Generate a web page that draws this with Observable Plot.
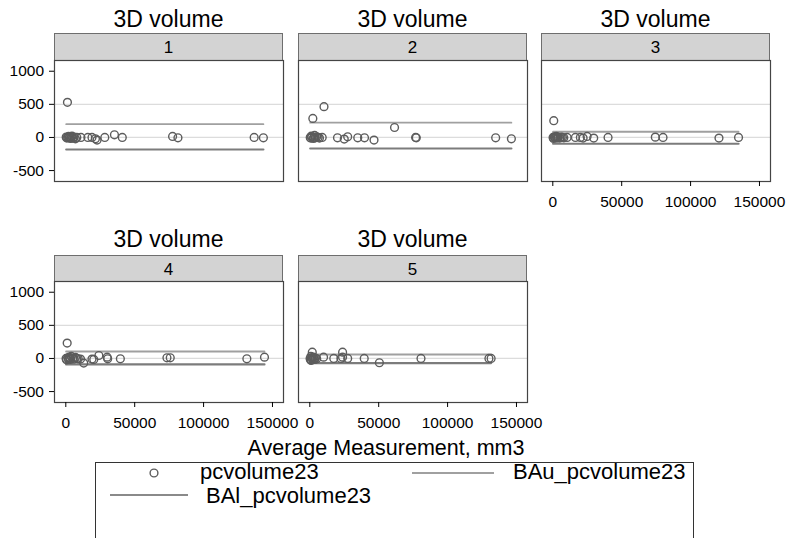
<!DOCTYPE html>
<html><head><meta charset="utf-8">
<script src="https://cdn.jsdelivr.net/npm/d3@7"></script>
<script src="https://cdn.jsdelivr.net/npm/@observablehq/plot@0.6"></script>
<style>
body{margin:0;background:#fff;}
#chart{position:relative;width:791px;height:538px;overflow:hidden;background:#fff;font-family:"Liberation Sans",Arial,sans-serif;color:#000;}
.abs{position:absolute;white-space:nowrap;}
</style></head><body><div id="chart"></div>
<script>
// ---------- data ----------
const panelIds = [1, 2, 3, 4, 5];
const avg1  = [300,800,1200,1500,2000,2500,3000,3500,4000,4500,5000,6000,7000,8000,11000,16000,19000,21500,22700,28300,35300,41000,77500,81400,136700,143400];
const diff1 = [5,-10,530,0,15,-5,10,-15,0,20,-10,5,-20,0,0,0,0,-20,-40,0,40,0,15,-5,0,-5];
const avg2  = [300,600,1000,1500,2200,2500,3000,3500,4000,5000,6000,7000,9000,10300,20100,25000,27500,34800,39700,46600,61500,76800,77300,134900,146300];
const diff2 = [0,-10,20,10,288,-15,0,30,-5,10,0,-10,0,465,-5,-25,10,-5,-5,-40,150,0,-5,-5,-20];
const avg3  = [200,500,700,1000,1500,2000,2500,3000,3500,4000,5000,6000,7000,8000,10400,16400,20000,22000,24900,29700,40100,74400,80000,120600,134800];
const diff3 = [0,-15,253,10,-5,0,15,-10,5,0,-10,5,0,-5,0,0,0,-10,15,-10,0,5,0,-10,0];
const avg4  = [200,500,1000,1500,2000,2500,3000,3500,4000,5000,6000,7000,8000,9000,10700,13000,19000,20300,24000,30000,30400,39600,73400,75800,131400,144200];
const diff4 = [0,-20,232,10,-10,20,0,-15,30,5,-10,15,0,-5,-10,-70,-10,-15,45,20,-5,-5,10,10,-5,20];
const avg5  = [200,500,800,1000,1500,1800,2000,2500,3000,3500,4000,5000,10000,17400,22600,23800,23800,27500,39500,50500,80700,130000,131600];
const diff5 = [0,-20,30,-30,10,95,-10,20,0,-15,5,-5,20,0,0,95,20,0,0,-65,0,0,0];
const avgs  = [avg1, avg2, avg3, avg4, avg5];
const diffs = [diff1, diff2, diff3, diff4, diff5];
const upperLimit = [200, 223, 86, 105, 60];
const lowerLimit = [-182, -167, -95, -90, -70];
const yTicks = [-500, 0, 500, 1000];
const xTicks = [0, 50000, 100000, 150000];
const gridValues = [0, 500];
const panelTitle = "3D volume";
const xTitle = "Average Measurement, mm3";
const legendLabels = ["pcvolume23", "BAu_pcvolume23", "BAl_pcvolume23"];

// ---------- layout ----------
const chart = document.getElementById("chart");
const FONT = '"Liberation Sans", Arial, sans-serif';
const PW = 229, PH = 121, ML = 54, MR = 24, MT = 2, MB = 36;
const layout = [
  {L: 54,  T: 60,  titleBase: 27.5,  stripTop: 33,  showY: true,  showX: false},
  {L: 298, T: 60,  titleBase: 27.5,  stripTop: 33,  showY: false, showX: false},
  {L: 541, T: 60,  titleBase: 27.5,  stripTop: 33,  showY: false, showX: true},
  {L: 54,  T: 281, titleBase: 247,   stripTop: 255, showY: true,  showX: true},
  {L: 298, T: 281, titleBase: 247,   stripTop: 255, showY: false, showX: true}
];

function addText(str, x, baseline, size, anchor = "start") {
  const d = document.createElement("div");
  d.className = "abs";
  d.textContent = str;
  d.style.fontSize = size + "px";
  d.style.lineHeight = size + "px";
  d.style.top = (baseline - 0.8465 * size) + "px";
  d.style.left = x + "px";
  if (anchor === "middle") d.style.transform = "translateX(-50%)";
  chart.appendChild(d);
  return d;
}

panelIds.forEach((id, i) => {
  const lay = layout[i];
  const pts = avgs[i].map((a, j) => ({avg: a, diff: diffs[i][j]}));
  const x0 = d3.min(avgs[i]), x1 = d3.max(avgs[i]);
  const up = [{x: x0, y: upperLimit[i]}, {x: x1, y: upperLimit[i]}];
  const lo = [{x: x0, y: lowerLimit[i]}, {x: x1, y: lowerLimit[i]}];

  addText(panelTitle, lay.L + PW / 2, lay.titleBase, 23, "middle");
  const s = document.createElement("div");
  s.className = "abs";
  s.style.left = lay.L + "px";
  s.style.top = lay.stripTop + "px";
  s.style.width = (PW - 2) + "px";
  s.style.height = (lay.T - lay.stripTop - 1) + "px";
  s.style.background = "#d3d3d3";
  s.style.border = "1px solid #6e6e6e";
  s.style.borderBottom = "none";
  s.style.textAlign = "center";
  s.style.fontSize = "17px";
  s.style.lineHeight = (lay.T - lay.stripTop + 1) + "px";
  s.textContent = String(id);
  chart.appendChild(s);

  const marks = [
    Plot.gridY(gridValues, {stroke: "#dcdcdc", strokeOpacity: 1, strokeWidth: 1.2}),
    Plot.line(up, {x: "x", y: "y", stroke: "#a0a0a0", strokeWidth: 1.8}),
    Plot.line(lo, {x: "x", y: "y", stroke: "#7c7c7c", strokeWidth: 2.2}),
    Plot.dot(pts, {x: "avg", y: "diff", r: 3.9, fill: "none", stroke: "#5c5c5c", strokeWidth: 1.4}),
    Plot.frame({stroke: "#444", strokeWidth: 1.2})
  ];
  if (lay.showY) marks.push(Plot.axisY(yTicks, {tickSize: 5, tickPadding: 5.5, label: null, fontSize: 15.5, tickFormat: d => String(d)}));
  if (lay.showX) marks.push(Plot.axisX(xTicks, {tickSize: 5, tickPadding: 9, label: null, fontSize: 15.5, tickFormat: d => String(d)}));

  const svg = Plot.plot({
    width: ML + PW + MR,
    height: MT + PH + MB,
    marginLeft: ML, marginRight: MR, marginTop: MT, marginBottom: MB,
    x: {domain: [-8200, 158000], ...(lay.showX ? {} : {axis: null})},
    y: {domain: [-665, 1162], ...(lay.showY ? {} : {axis: null})},
    style: {background: "transparent", overflow: "visible", fontFamily: FONT, fontSize: "15.5px", color: "#000"},
    marks
  });
  svg.style.position = "absolute";
  svg.style.left = (lay.L - ML) + "px";
  svg.style.top = (lay.T - MT) + "px";
  svg.style.maxWidth = "none";
  chart.appendChild(svg);
});

addText(xTitle, 386, 456.5, 21.5, "middle");

const box = document.createElement("div");
box.className = "abs";
box.style.left = "95px"; box.style.top = "462px";
box.style.width = "597px"; box.style.height = "100px";
box.style.border = "1px solid #333";
chart.appendChild(box);

const ns = "http://www.w3.org/2000/svg";
const lsvg = document.createElementNS(ns, "svg");
lsvg.setAttribute("width", 791); lsvg.setAttribute("height", 538);
lsvg.style.position = "absolute"; lsvg.style.left = "0px"; lsvg.style.top = "0px";
const c = document.createElementNS(ns, "circle");
c.setAttribute("cx", 154); c.setAttribute("cy", 473); c.setAttribute("r", 3.9);
c.setAttribute("fill", "none"); c.setAttribute("stroke", "#5c5c5c"); c.setAttribute("stroke-width", 1.4);
lsvg.appendChild(c);
[[412, 494, 473, "#a0a0a0"], [110, 188, 495, "#8a8a8a"]].forEach(([a, b, y, col]) => {
  const l = document.createElementNS(ns, "line");
  l.setAttribute("x1", a); l.setAttribute("x2", b); l.setAttribute("y1", y); l.setAttribute("y2", y);
  l.setAttribute("stroke", col); l.setAttribute("stroke-width", 1.8);
  lsvg.appendChild(l);
});
chart.appendChild(lsvg);
addText(legendLabels[0], 200, 480, 22);
addText(legendLabels[1], 513, 480, 22);
addText(legendLabels[2], 206, 503.5, 22);
</script></body></html>
